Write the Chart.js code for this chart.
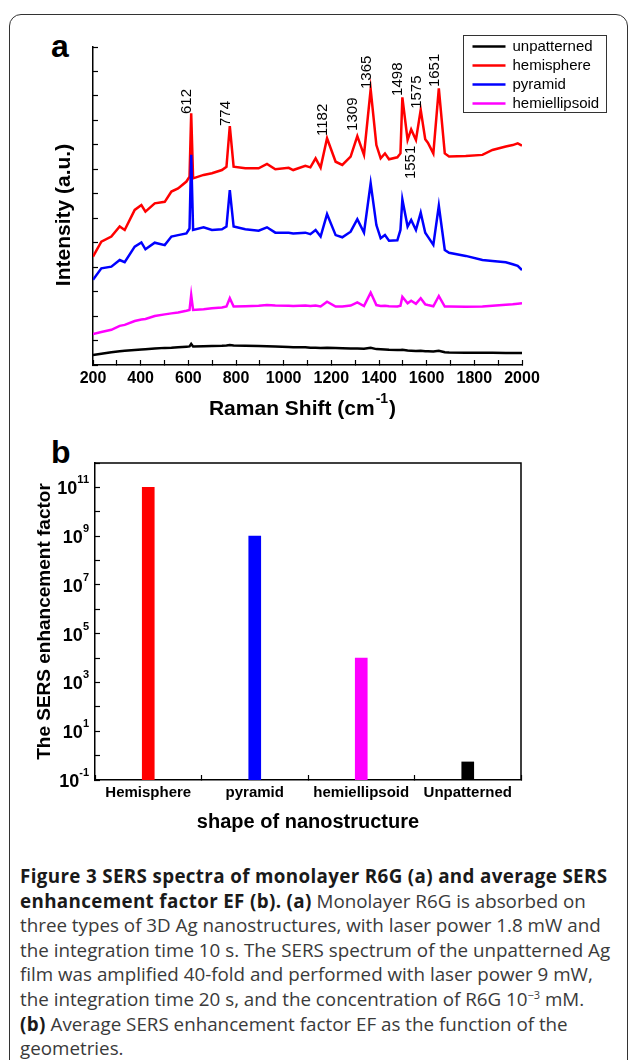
<!DOCTYPE html>
<html>
<head>
<meta charset="utf-8">
<script src="https://cdn.jsdelivr.net/npm/chart.js@4.4.0/dist/chart.umd.min.js"></script>
<style>
  html, body { margin: 0; padding: 0; background: #fff; }
  body { width: 629px; height: 1060px; position: relative; overflow: hidden;
         font-family: "Liberation Sans", Arial, sans-serif; }
  #frame { position: absolute; left: 9px; top: 14px; width: 619px; height: 1100px;
           box-sizing: border-box; border: 1.5px solid #333; border-radius: 12px; }
  .panel { position: absolute; font-weight: bold; font-size: 32px; line-height: 32px; }
  canvas { position: absolute; left: 0; }
  #ca { top: 0; }
  #cb { top: 430px; }
  #caption { position: absolute; left: 20px; top: 864px; font-family: "Open Sans", sans-serif;
             font-size: 18.8px; line-height: 24.6px; color: #3a3a3a; white-space: nowrap; }
  #caption b { color: #1a1a1a; font-weight: 700; letter-spacing: 0.35px; }
  #caption sup { font-size: 11px; line-height: 0; }
</style>
</head>
<body>
<div id="frame"></div>
<div class="panel" style="left:51px; top:30px;">a</div>
<div class="panel" style="left:51px; top:436px;">b</div>
<canvas id="ca" width="629" height="430"></canvas>
<canvas id="cb" width="629" height="410"></canvas>
<div id="caption">
  <div><b>Figure 3 SERS spectra of monolayer R6G (a) and average SERS</b></div>
  <div><b>enhancement factor EF (b). (a)</b> Monolayer R6G is absorbed on</div>
  <div>three types of 3D Ag nanostructures, with laser power 1.8 mW and</div>
  <div>the integration time 10 s. The SERS spectrum of the unpatterned Ag</div>
  <div>film was amplified 40-fold and performed with laser power 9 mW,</div>
  <div>the integration time 20 s, and the concentration of R6G 10<sup>−3</sup> mM.</div>
  <div><b>(b)</b> Average SERS enhancement factor EF as the function of the</div>
  <div>geometries.</div>
</div>
<script>
// ---- panel (a): Raman spectra, intensity in arbitrary units ----
const ramanShift = [200, 235, 277, 312, 333, 375, 403, 420, 459, 501, 529, 557, 592, 605, 612, 620,
  664, 699, 741, 760, 774, 790, 839, 895, 930, 965, 1021, 1040, 1091, 1112, 1134, 1155, 1182,
  1218, 1246, 1281, 1309, 1337, 1365, 1389, 1407, 1425, 1442, 1477, 1490, 1498, 1520, 1535,
  1555, 1575, 1594, 1605, 1628, 1651, 1676, 1694, 1764, 1834, 1876, 1932, 1961, 1982, 2000];

const unpatterned = [0.41, 0.46, 0.52, 0.56, 0.58, 0.61, 0.63, 0.64, 0.67, 0.70, 0.71, 0.73, 0.75,
  0.76, 0.86, 0.76, 0.77, 0.78, 0.79, 0.80, 0.82, 0.80, 0.79, 0.78, 0.77, 0.76, 0.74, 0.73, 0.73,
  0.71, 0.71, 0.70, 0.71, 0.69, 0.68, 0.67, 0.67, 0.66, 0.70, 0.65, 0.64, 0.63, 0.62, 0.61, 0.61,
  0.62, 0.59, 0.58, 0.57, 0.58, 0.56, 0.56, 0.55, 0.58, 0.52, 0.51, 0.50, 0.50, 0.50, 0.49, 0.49,
  0.49, 0.49];

const hemisphere = [4.43, 5.04, 5.25, 5.66, 5.52, 6.34, 6.54, 6.27, 6.61, 6.67, 7.09, 7.22, 7.50,
  7.70, 10.29, 7.63, 7.77, 7.84, 7.97, 8.10, 9.77, 8.11, 8.04, 8.04, 8.22, 8.00, 8.06, 7.97, 8.14,
  8.08, 8.45, 8.07, 9.27, 8.31, 8.18, 8.52, 9.36, 8.59, 11.27, 8.99, 8.45, 8.65, 8.41, 8.49, 8.65,
  10.94, 9.20, 9.63, 9.20, 10.43, 9.23, 9.09, 8.65, 11.31, 8.65, 8.52, 8.54, 8.59, 8.79, 8.93, 8.99,
  9.06, 8.97];

const pyramid = [3.48, 3.95, 4.02, 4.29, 4.20, 4.84, 5.01, 4.73, 5.00, 4.90, 5.25, 5.31, 5.38,
  5.58, 8.59, 5.52, 5.63, 5.52, 5.55, 5.66, 7.15, 5.66, 5.55, 5.49, 5.63, 5.41, 5.41, 5.38, 5.41,
  5.35, 5.52, 5.25, 6.17, 5.31, 5.22, 5.45, 5.96, 5.41, 7.43, 5.72, 5.18, 5.31, 5.08, 5.10, 5.52,
  6.77, 5.66, 5.93, 5.52, 6.23, 5.41, 5.25, 4.91, 6.51, 4.70, 4.59, 4.46, 4.29, 4.25, 4.20, 4.12,
  4.05, 3.88];

const hemiellipsoid = [1.27, 1.35, 1.44, 1.60, 1.64, 1.80, 1.86, 1.88, 2.00, 2.07, 2.11, 2.15, 2.22,
  2.25, 2.86, 2.25, 2.28, 2.32, 2.35, 2.39, 2.73, 2.39, 2.40, 2.42, 2.45, 2.43, 2.42, 2.41, 2.43,
  2.41, 2.43, 2.39, 2.59, 2.39, 2.39, 2.43, 2.56, 2.41, 2.96, 2.45, 2.41, 2.42, 2.40, 2.39, 2.42,
  2.79, 2.52, 2.63, 2.50, 2.73, 2.48, 2.45, 2.40, 2.82, 2.39, 2.39, 2.38, 2.39, 2.42, 2.46, 2.48,
  2.50, 2.52];

// peak annotations: position and the intensity where the label starts
const peakShift = [612, 774, 1182, 1309, 1365, 1498, 1551, 1575, 1651];
const peakLabelLevel = [10.22, 9.73, 9.32, 9.53, 11.24, 10.96, 7.56, 10.43, 11.32];

// ---- panel (b): enhancement factor ----
const shapes = ["Hemisphere", "pyramid", "hemiellipsoid", "Unpatterned"];
const enhancement = [1e11, 1e9, 1e4, 0.55];
const efExponents = [-1, 0, 1, 2, 3, 4, 5, 6, 7, 8, 9, 10, 11, 12];

Chart.defaults.font.family = '"Liberation Sans", Arial, Helvetica, sans-serif';
Chart.defaults.color = "#000";

const inTicks = { drawOnChartArea: false, drawTicks: true, tickLength: -5, tickColor: "#000", tickWidth: 1.2 };
const axisLine = { display: true, color: "#000", width: 1.5 };

function series(label, values, color, order) {
  return {
    label: label,
    data: ramanShift.map((x, i) => ({ x: x, y: values[i] })),
    borderColor: color,
    borderWidth: 2.5,
    pointRadius: 0,
    tension: 0,
    order: order,
  };
}

// legend box, peak numbers and axis titles of panel (a)
const spectraDecor = {
  id: "spectraDecor",
  afterDraw(chart) {
    const ctx = chart.ctx;
    const area = chart.chartArea;
    const xs = chart.scales.x;
    const ys = chart.scales.y;
    ctx.save();

    // peak numbers
    ctx.fillStyle = "#000";
    ctx.font = '15px "Liberation Sans", Arial, sans-serif';
    ctx.textAlign = "left";
    ctx.textBaseline = "middle";
    peakShift.forEach((p, i) => {
      ctx.save();
      ctx.translate(xs.getPixelForValue(p) - 4, ys.getPixelForValue(peakLabelLevel[i]) - 1);
      ctx.rotate(-Math.PI / 2);
      ctx.fillText(String(p), 0, 0);
      ctx.restore();
    });

    // legend
    const lx = area.right - 58.5, ly = 35.5;
    ctx.strokeStyle = "#333";
    ctx.lineWidth = 1;
    ctx.strokeRect(lx, ly, 143, 77);
    ctx.font = '15px "Liberation Sans", Arial, sans-serif';
    chart.data.datasets.forEach((ds, i) => {
      const y = ly + 11 + i * 19;
      ctx.strokeStyle = ds.borderColor;
      ctx.lineWidth = 2.5;
      ctx.beginPath();
      ctx.moveTo(lx + 9, y);
      ctx.lineTo(lx + 42, y);
      ctx.stroke();
      ctx.fillStyle = "#000";
      ctx.fillText(ds.label, lx + 49, y);
    });

    // y title
    ctx.font = 'bold 21px "Liberation Sans", Arial, sans-serif';
    ctx.textAlign = "center";
    ctx.save();
    ctx.translate(area.left - 29, (area.top + area.bottom) / 2 + 9);
    ctx.rotate(-Math.PI / 2);
    ctx.fillText("Intensity (a.u.)", 0, 0);
    ctx.restore();

    // x title with superscript
    const main = "Raman Shift (cm", sup = "-1", close = ")";
    const bigFont = 'bold 21px "Liberation Sans", Arial, sans-serif';
    const supFont = 'bold 14px "Liberation Sans", Arial, sans-serif';
    ctx.font = bigFont;
    const w1 = ctx.measureText(main).width, w3 = ctx.measureText(close).width;
    ctx.font = supFont;
    const w2 = ctx.measureText(sup).width;
    let x = (area.left + area.right) / 2 - 6 - (w1 + w2 + w3) / 2;
    const ty = area.bottom + 44;
    ctx.textAlign = "left";
    ctx.font = bigFont;
    ctx.fillText(main, x, ty);
    ctx.font = supFont;
    ctx.fillText(sup, x + w1 + 1, ty - 10);
    ctx.font = bigFont;
    ctx.fillText(close, x + w1 + w2 + 2, ty);
    ctx.restore();
  },
};

new Chart(document.getElementById("ca"), {
  type: "line",
  data: {
    datasets: [
      series("unpatterned", unpatterned, "#000000", 1),
      series("hemisphere", hemisphere, "#ff0000", 1),
      series("pyramid", pyramid, "#0000ff", 0),
      series("hemiellipsoid", hemiellipsoid, "#ff00ff", 1),
    ],
  },
  options: {
    responsive: false,
    animation: false,
    devicePixelRatio: 1,
    layout: { padding: { left: 40, right: 107, top: 47, bottom: 0 } },
    plugins: { legend: { display: false }, tooltip: { enabled: false } },
    scales: {
      x: {
        type: "linear",
        min: 200,
        max: 2000,
        border: axisLine,
        grid: inTicks,
        ticks: {
          stepSize: 100,
          autoSkip: false,
          maxRotation: 0,
          padding: 9,
          font: { size: 16, weight: "bold" },
          callback: (v) => (v % 200 === 0 ? v : ""),
        },
        afterFit: (s) => { s.height = 65; },
      },
      y: {
        min: 0,
        max: 13,
        border: axisLine,
        grid: inTicks,
        ticks: { display: false, stepSize: 1 },
        afterFit: (s) => { s.width = 53; },
      },
    },
  },
  plugins: [spectraDecor],
});

// frame + power-of-ten labels of panel (b)
const efDecor = {
  id: "efDecor",
  afterDraw(chart) {
    const ctx = chart.ctx;
    const area = chart.chartArea;
    const ys = chart.scales.y;
    ctx.save();
    ctx.strokeStyle = "#000";
    ctx.lineWidth = 1.5;
    ctx.beginPath();
    ctx.moveTo(area.left, area.top);
    ctx.lineTo(area.right, area.top);
    ctx.lineTo(area.right, area.bottom);
    ctx.stroke();

    ctx.fillStyle = "#000";
    ctx.textBaseline = "middle";
    ctx.textAlign = "left";
    efExponents.filter((e) => Math.abs(e % 2) === 1).forEach((e) => {
      const y = ys.getPixelForValue(Math.pow(10, e));
      const exp = String(e);
      ctx.font = 'bold 11px "Liberation Sans", Arial, sans-serif';
      const we = ctx.measureText(exp).width;
      ctx.font = 'bold 18px "Liberation Sans", Arial, sans-serif';
      const wb = ctx.measureText("10").width;
      const right = area.left - 6;
      ctx.fillText("10", right - we - wb, y + 2);
      ctx.font = 'bold 11px "Liberation Sans", Arial, sans-serif';
      ctx.fillText(exp, right - we, y - 7);
    });
    ctx.restore();
  },
};

new Chart(document.getElementById("cb"), {
  type: "bar",
  data: {
    labels: shapes,
    datasets: [{
      data: enhancement,
      backgroundColor: ["#ff0000", "#0000ff", "#ff00ff", "#000000"],
      borderWidth: 0,
      barThickness: 12,
    }],
  },
  options: {
    responsive: false,
    animation: false,
    devicePixelRatio: 1,
    layout: { padding: { left: 30, right: 108, top: 33, bottom: 0 } },
    plugins: { legend: { display: false }, tooltip: { enabled: false } },
    scales: {
      x: {
        border: axisLine,
        grid: inTicks,
        ticks: { padding: 9, font: { size: 15, weight: "bold" } },
        title: {
          display: true,
          text: "shape of nanostructure",
          font: { size: 20, weight: "bold" },
          padding: { top: 0, bottom: 6 },
        },
        afterFit: (s) => { s.height = 60; },
      },
      y: {
        type: "logarithmic",
        min: 0.1,
        max: 1e12,
        border: axisLine,
        grid: inTicks,
        afterBuildTicks: (s) => { s.ticks = efExponents.map((e) => ({ value: Math.pow(10, e) })); },
        ticks: { display: false },
        title: {
          display: true,
          text: "The SERS enhancement factor",
          font: { size: 19, weight: "bold" },
          padding: { top: 3, bottom: 0 },
        },
        afterFit: (s) => { s.width = 65; },
      },
    },
  },
  plugins: [efDecor],
});
</script>
</body>
</html>
